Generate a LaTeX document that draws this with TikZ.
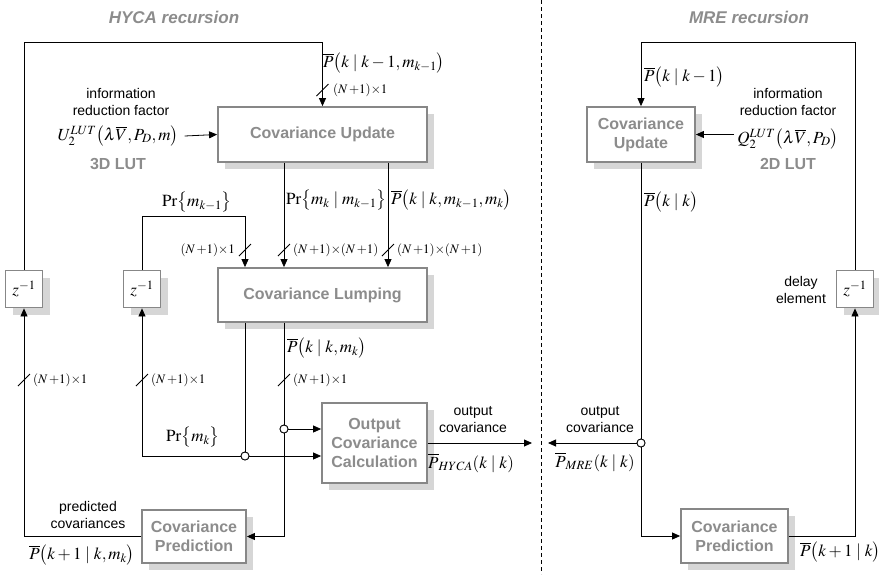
\documentclass[tikz,border=0pt]{standalone}
\usepackage{mathptmx}
\usepackage[no-math]{fontspec}
\setmainfont{Liberation Serif}
\setsansfont{Liberation Sans}
\usetikzlibrary{arrows.meta,calc}
\definecolor{boxgray}{RGB}{135,135,135}
\definecolor{txtgray}{RGB}{140,140,140}
\definecolor{shgray}{RGB}{214,214,214}
\tikzset{
  blk/.style={draw=boxgray,line width=1.8pt,fill=white,align=center,
    font=\sffamily\bfseries\fontsize{16}{19}\selectfont,text=txtgray,
    inner sep=0pt},
  zbox/.style={draw=boxgray,line width=1.8pt,fill=white,
    inner sep=0pt,font=\fontsize{17}{20}\selectfont},
  arr/.style={-{Triangle[length=8pt,width=7pt]},line width=0.8pt},
  ln/.style={line width=0.8pt},
  lbl/.style={font=\sffamily\fontsize{14}{17}\selectfont,align=center,inner sep=0pt},
  mlbl/.style={font=\fontsize{17}{20}\selectfont,inner sep=0pt},
  dlbl/.style={font=\fontsize{13}{16}\selectfont,inner sep=0pt},
  lut/.style={font=\sffamily\bfseries\fontsize{16}{19}\selectfont,text=txtgray,inner sep=0pt},
  ttl/.style={font=\sffamily\bfseries\itshape\fontsize{17}{20}\selectfont,text=txtgray,inner sep=0pt},
  jn/.style={circle,draw,fill=white,line width=0.8pt,minimum size=8pt,inner sep=0pt},
}
\newcommand{\slashmark}[1]{\draw[line width=0.8pt] ($(#1)+(-6,6)$) -- ($(#1)+(6,-6)$);}
\newcommand{\dimNN}{$(N\,{+}1){\times}(N\,{+}1)$}
\newcommand{\dimNone}{$(N\,{+}1){\times}1$}
% name, left, top, w, h, style, text
\newcommand{\shbox}[7]{%
  \fill[shgray] (#2+7,#3+7) rectangle ++(#4,#5);
  \draw[#6] (#2,#3) rectangle ++(#4,#5);
  \node[#6,draw=none,fill=none,minimum width=#4pt,minimum height=#5pt] (#1) at (#2+#4/2,#3+#5/2) {#7};}
\begin{document}
\begin{tikzpicture}[x=1pt,y=-1pt]
\useasboundingbox (0,0) rectangle (879,574);
% titles
\node[ttl] (t1) at (174,17) {HYCA recursion};
\node[ttl] (t2) at (749,17) {MRE recursion};
% divider
\draw[line width=0.8pt,dash pattern=on 4pt off 3pt] (541,0) -- (541,574);

% ---------------- HYCA ----------------
\shbox{upd}{218}{107}{209}{55}{blk}{Covariance Update}
\shbox{lump}{218}{268}{209}{54}{blk}{Covariance Lumping}
\shbox{out}{322}{403}{105}{80}{blk}{Output\\Covariance\\Calculation}
\shbox{pred}{142}{510}{104}{53}{blk}{Covariance\\Prediction}
\shbox{z1}{5.5}{270.5}{37}{37}{zbox}{$z^{-1}$}
\shbox{z2}{123.5}{270.5}{37}{37}{zbox}{$z^{-1}$}

\coordinate (xa) at (245,0);
\coordinate (xb) at (284,0);
\coordinate (xc) at (388,0);
\coordinate (tl) at (322.5,42);
\coordinate (pk) at (245,216);
\coordinate (hout) at (532,443);
\node[jn] (c1) at (245,456) {};
\node[jn] (c2) at (284,429) {};
\coordinate (cb) at (284,536.5);

\draw[arr] (z1.north) |- (tl) -- (upd.north);
\node[lbl] (info1) at (121,102) {information\\reduction factor};
\node[mlbl] (U) at (118,136) {$U_2^{LUT}\bigl(\lambda\overline{V},P_D,m\bigr)$};
\node[lut] (lut3) at (118,164) {3D LUT};
\draw[arr] ([xshift=6pt]U.east) -- (upd.west);

\draw[arr] (upd.south -| xb) -- (lump.north -| xb);
\draw[arr] (upd.south -| xc) -- (lump.north -| xc);
\draw[arr] (z2.north) |- (pk) -- (lump.north -| xa);

\draw[ln] (lump.south -| xa) -- (c1);
\draw[arr] (c1) -- (out.west |- c1);
\draw[arr] (c1) -| (z2.south);
\draw[ln] (lump.south -| xb) -- (c2);
\draw[arr] (c2) -- (cb) -- (pred.east);
\draw[arr] (c2) -- (out.west |- c2);
\node[jn] at (c1) {};
\node[jn] at (c2) {};
\draw[arr] (pred.west) -| (z1.south);
\draw[arr] (out.east) -- (hout);

% slashes
\coordinate (s1) at (322.5,90);
\coordinate (s2) at (245,250);
\coordinate (s3) at (284,250);
\coordinate (s4) at (388,250);
\coordinate (s5) at (24,380);
\coordinate (s6) at (142,380);
\coordinate (s7) at (284,380);
\slashmark{s1}\slashmark{s2}\slashmark{s3}\slashmark{s4}\slashmark{s5}\slashmark{s6}\slashmark{s7}

% labels HYCA
\node[mlbl,anchor=west] (l1) at (323,63) {$\overline{P}\bigl(k\mid k-1,m_{k-1}\bigr)$};
\node[dlbl,anchor=west] (d1) at (333,90) {\dimNone};
\node[mlbl] (l2) at (197,202) {$\Pr\bigl\{m_{k-1}\bigr\}$};
\node[dlbl,anchor=east] (d2) at (235,250) {\dimNone};
\node[mlbl,anchor=west] (l3) at (286,200) {$\Pr\bigl\{m_k\mid m_{k-1}\bigr\}$};
\node[mlbl,anchor=west] (l4) at (391,200) {$\overline{P}\bigl(k\mid k,m_{k-1},m_k\bigr)$};
\node[dlbl,anchor=west] (d3) at (293,250) {\dimNN};
\node[dlbl,anchor=west] (d4) at (397,250) {\dimNN};
\node[dlbl,anchor=west] (d5) at (33,380) {\dimNone};
\node[dlbl,anchor=west] (d6) at (151,380) {\dimNone};
\node[dlbl,anchor=west] (d7) at (293,380) {\dimNone};
\node[mlbl,anchor=west] (l5) at (287,348) {$\overline{P}\bigl(k\mid k,m_k\bigr)$};
\node[mlbl] (l6) at (193,437) {$\Pr\bigl\{m_k\bigr\}$};
\node[lbl] (l7) at (88,515) {predicted\\covariances};
\node[mlbl] (l8) at (82,555) {$\overline{P}\bigl(k+1\mid k,m_k\bigr)$};
\node[lbl] (l9) at (473,420) {output\\covariance};
\node[mlbl,anchor=west] (l10) at (428,463) {$\overline{P}_{HYCA}(k\mid k)$};

% ---------------- MRE ----------------
\shbox{rupd}{587}{107}{108}{55}{blk}{Covariance\\Update}
\shbox{rpred}{681}{509}{107}{54}{blk}{Covariance\\Prediction}
\shbox{z3}{836.5}{270.5}{37}{37}{zbox}{$z^{-1}$}
\coordinate (rtl) at (641,42);
\node[jn] (c3) at (641,443) {};
\coordinate (rb) at (641,536);
\coordinate (rout) at (548,443);

\draw[arr] (z3.north) |- (rtl) -- (rupd.north);
\node[lbl] (info2) at (788,102) {information\\reduction factor};
\node[mlbl] (Q) at (788,139) {$Q_2^{LUT}\bigl(\lambda\overline{V},P_D\bigr)$};
\node[lut] (lut2) at (788,164) {2D LUT};
\draw[arr] ([xshift=-3pt]Q.west |- rupd.east) -- (rupd.east);
\draw[ln] (rupd.south) -- (c3);
\draw[arr] (c3) -- (rb) -- (rpred.west);
\draw[arr] (c3) -- (rout);
\node[jn] at (c3) {};
\draw[arr] (rpred.east) -| (z3.south);

\node[mlbl,anchor=west] (r1) at (644,77) {$\overline{P}\bigl(k\mid k-1\bigr)$};
\node[mlbl,anchor=west] (r2) at (644,202) {$\overline{P}\bigl(k\mid k\bigr)$};
\node[lbl] (r3) at (801,290) {delay\\element};
\node[lbl] (r4) at (600,420) {output\\covariance};
\node[mlbl] (r5) at (595,462) {$\overline{P}_{MRE}(k\mid k)$};
\node[mlbl,anchor=west] (r6) at (800,552) {$\overline{P}\bigl(k+1\mid k\bigr)$};
\end{tikzpicture}
\end{document}
